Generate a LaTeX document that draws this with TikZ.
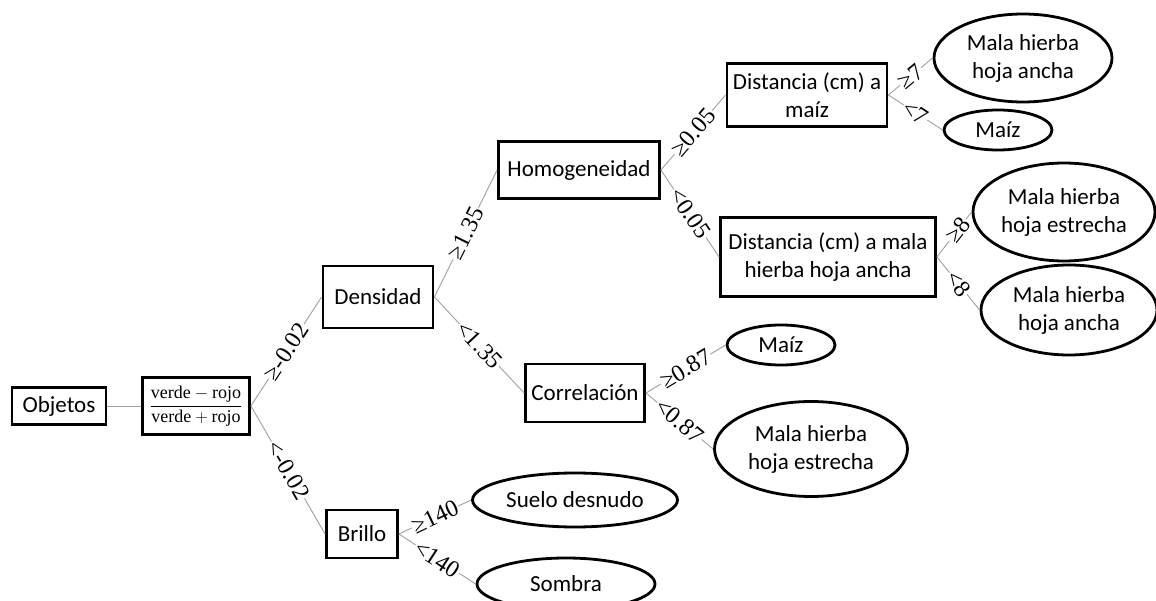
\documentclass[tikz,border=0pt]{standalone}
\usepackage{amsmath}
\usepackage{fontspec}
\setmainfont{Liberation Serif}
\newfontfamily\calibri{Carlito}
\usetikzlibrary{positioning,shapes.geometric}

\begin{document}
\begin{tikzpicture}[x=1pt,y=1pt,on grid,
  every node/.style={font=\calibri\fontsize{23}{28}\selectfont,align=center}]
\useasboundingbox (0,0) rectangle (1156,600);
\tikzset{mybox/.style={draw,rectangle,line width=2.8pt,inner sep=2pt}}
\tikzset{myleaf/.style={draw,ellipse,line width=2.8pt,inner sep=0pt}}
\tikzset{myedge/.style={draw=gray!75,line width=0.9pt}}
\tikzset{mylabel/.style={midway,sloped,fill=white,inner sep=1pt,font=\rmfamily\fontsize{24}{24}\selectfont}}

  \node[mybox,minimum width=94pt,minimum height=37pt]  (O)  at (59,194)                   {Objetos};
  \node[mybox,minimum width=107pt,minimum height=57pt] (F)  [right=137pt of O]
       {\fontsize{18}{22}\rmfamily$\dfrac{\text{verde}-\text{rojo}}{\text{verde}+\text{rojo}}$};
  \node[mybox,minimum width=110pt,minimum height=62pt] (D)  [above right=109pt and 182pt of F] {Densidad};
  \node[mybox,minimum width=71pt,minimum height=48pt]  (B)  [below right=128pt and 166pt of F] {Brillo};
  \node[mybox,minimum width=161pt,minimum height=57pt] (H)  [above right=127pt and 201pt of D] {Homogeneidad};
  \node[mybox,minimum width=119pt,minimum height=58pt] (C)  [below right=96pt and 207pt of D]  {Correlación};
  \node[mybox,minimum width=160pt,minimum height=63pt] (DM) [above right=75pt and 228pt of H]  {Distancia (cm) a\\maíz};
  \node[mybox,minimum width=215pt,minimum height=79pt] (DH) [below right=87pt and 249pt of H]  {Distancia (cm) a mala\\hierba hoja ancha};
  \node[myleaf,minimum width=178pt,minimum height=88pt] (L1) [above right=37pt and 216pt of DM] {Mala hierba\\hoja ancha};
  \node[myleaf,minimum width=108pt,minimum height=40pt] (L2) [below right=35pt and 191pt of DM] {Maíz};
  \node[myleaf,minimum width=182pt,minimum height=98pt] (L3) [above right=45pt and 236pt of DH] {Mala hierba\\hoja estrecha};
  \node[myleaf,minimum width=176pt,minimum height=90pt] (L4) [below right=53pt and 241pt of DH] {Mala hierba\\hoja ancha};
  \node[myleaf,minimum width=108pt,minimum height=40pt] (L5) [above right=48pt and 196pt of C]  {Maíz};
  \node[myleaf,minimum width=193pt,minimum height=95pt] (L6) [below right=56pt and 226pt of C]  {Mala hierba\\hoja estrecha};
  \node[myleaf,minimum width=205pt,minimum height=54pt] (L7) [above right=34pt and 213pt of B]  {Suelo desnudo};
  \node[myleaf,minimum width=178pt,minimum height=52pt] (L8) [below right=50pt and 204pt of B]  {Sombra};

\path (O.east)  edge [myedge] (F.west)
      (F.east)  edge [myedge] node[mylabel] {≥-0.02} (D.west)
      (F.east)  edge [myedge] node[mylabel] {<-0.02} (B.west)
      (D.east)  edge [myedge] node[mylabel] {≥1.35} (H.west)
      (D.east)  edge [myedge] node[mylabel] {<1.35} (C.west)
      (H.east)  edge [myedge] node[mylabel] {≥0.05} (DM.west)
      (H.east)  edge [myedge] node[mylabel] {<0.05} (DH.west)
      (DM.east) edge [myedge] node[mylabel] {≥7} (L1.west)
      (DM.east) edge [myedge] node[mylabel] {<7} (L2.west)
      (DH.east) edge [myedge] node[mylabel,pos=0.6] {≥8} (L3.west)
      (DH.east) edge [myedge] node[mylabel] {<8} (L4.west)
      (C.east)  edge [myedge] node[mylabel] {≥0.87} (L5.west)
      (C.east)  edge [myedge] node[mylabel] {<0.87} (L6.west)
      (B.east)  edge [myedge] node[mylabel] {≥140} (L7.west)
      (B.east)  edge [myedge] node[mylabel] {<140} (L8.west);
\end{tikzpicture}
\end{document}
